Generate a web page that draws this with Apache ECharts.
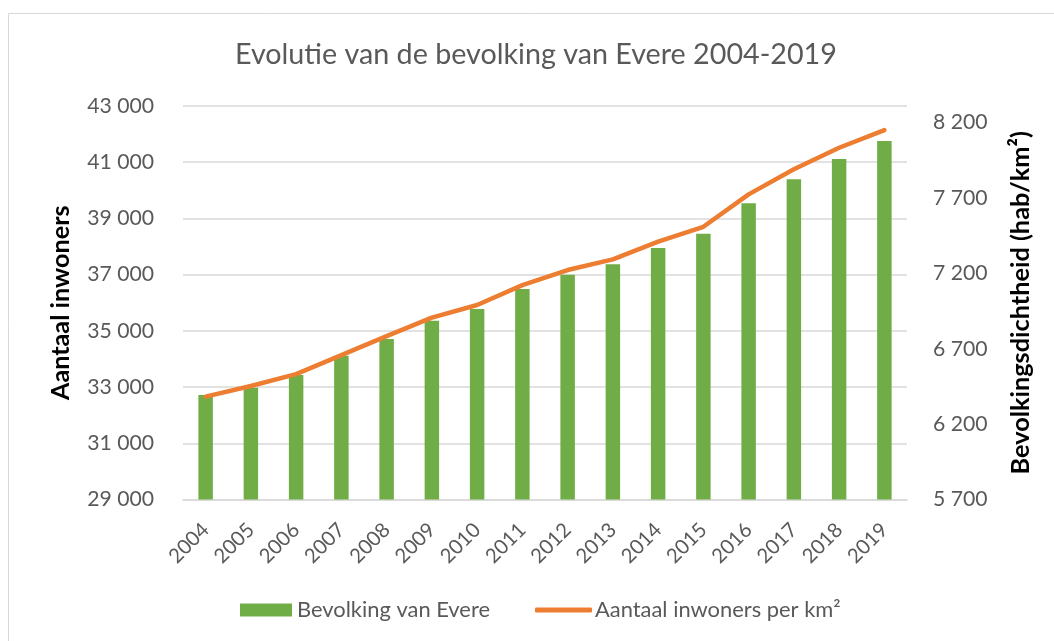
<!DOCTYPE html>
<html>
<head>
<meta charset="utf-8">
<script src="https://cdn.jsdelivr.net/npm/echarts@6/dist/echarts.min.js"></script>
<style>html,body{margin:0;padding:0;background:#fff;}#c{width:1054px;height:641px;}</style>
</head>
<body>
<div id="c"></div>
<script>
const years = ['2004','2005','2006','2007','2008','2009','2010','2011','2012','2013','2014','2015','2016','2017','2018','2019'];
const population = [32718,32977,33429,34116,34710,35361,35777,36488,36997,37367,37947,38456,39537,40391,41113,41753];
const density = [6382,6453,6532,6658,6784,6906,6990,7122,7222,7293,7410,7509,7724,7890,8033,8150];
const leftTicks = {min:29000, max:43000, interval:2000};
const rightTicks = {min:5700, max:8310, interval:500};

const TITLE = 'Evolutie van de bevolking van Evere 2004-2019';
const NAME_L = 'Aantaal inwoners';
const NAME_R = 'Bevolkingsdichtheid (hab/km²)';
const SER_BAR = 'Bevolking van Evere';
const SER_LINE = 'Aantaal inwoners per km²';

const FONT = 'Lato';
const GREY = '#595959';
const fmt = v => String(Math.round(v)).replace(/\B(?=(\d{3})+(?!\d))/g, ' ');

// pick a font size so that a string renders at the width seen in the reference
const ctx = document.createElement('canvas').getContext('2d');
function fit(text, target, weight) {
  ctx.font = (weight || 'normal') + ' 100px ' + FONT;
  return Math.round(100 * target / ctx.measureText(text).width * 10) / 10;
}
const fsTitle = fit(TITLE, 603);
const fsY = fit('43 000', 67);
const fsX = fit('2004', 47);
const fsLeg = fit(SER_BAR, 193);
const fsNameL = fit(NAME_L, 195, 'bold');
const fsNameR = fit(NAME_R, 343, 'bold');

const chart = echarts.init(document.getElementById('c'), null, {renderer:'canvas'});
chart.setOption({
  animation:false,
  backgroundColor:'#fff',
  textStyle:{fontFamily:FONT},
  graphic:[{type:'rect', shape:{x:8.5,y:13.5,width:1100,height:700}, style:{fill:'none', stroke:'#d9d9d9', lineWidth:1}, silent:true}],
  title:{text:TITLE, left:230, top:50 - fsTitle/2,
    textStyle:{fontFamily:FONT, fontWeight:'normal', fontSize:fsTitle, color:GREY}},
  grid:{left:183, right:147, top:106, bottom:141.5, containLabel:false},
  legend:[
    {data:[SER_BAR], left:235, top:605 - fsLeg/2, itemWidth:52, itemHeight:13, icon:'rect', itemGap:0,
      textStyle:{fontFamily:FONT, fontSize:fsLeg, color:GREY}},
    {data:[{name:SER_LINE, icon:'roundRect'}], left:530, top:605 - fsLeg/2, itemWidth:57, itemHeight:5, itemGap:0,
      textStyle:{fontFamily:FONT, fontSize:fsLeg, color:GREY, padding:[0,0,0,-2]}}
  ],
  xAxis:{type:'category', data:years,
    axisLine:{lineStyle:{color:'#d9d9d9', width:1.5}}, axisTick:{show:false},
    axisLabel:{rotate:45, color:GREY, fontSize:fsX, fontFamily:FONT, margin:27, interval:0}},
  yAxis:[
    {type:'value', min:leftTicks.min, max:leftTicks.max, interval:leftTicks.interval,
      name:NAME_L, nameLocation:'middle', nameGap:183 - 61 - fsNameL/2, nameRotate:90,
      nameTextStyle:{fontFamily:FONT, fontWeight:'bold', fontSize:fsNameL, color:'#000'},
      axisLine:{show:false}, axisTick:{show:false},
      splitLine:{lineStyle:{color:'#d9d9d9', width:1.5}},
      axisLabel:{color:GREY, fontSize:fsY, fontFamily:FONT, margin:29, formatter:fmt}},
    {type:'value', min:rightTicks.min, max:rightTicks.max, interval:rightTicks.interval,
      name:NAME_R, nameLocation:'middle', nameGap:1021 - 907 - fsNameR/2, nameRotate:90,
      nameTextStyle:{fontFamily:FONT, fontWeight:'bold', fontSize:fsNameR, color:'#000'},
      axisLine:{show:false}, axisTick:{show:false}, splitLine:{show:false},
      axisLabel:{color:GREY, fontSize:fsY, fontFamily:FONT, margin:26, showMaxLabel:false,
        formatter:v => (Math.abs((v - rightTicks.min) % rightTicks.interval) < 1e-6 ? fmt(v) : '')}}
  ],
  series:[
    {name:SER_BAR, type:'bar', data:population, barWidth:'32%', itemStyle:{color:'#70AD47'}},
    {name:SER_LINE, type:'line', yAxisIndex:1, data:density, symbol:'none', showSymbol:false,
      lineStyle:{color:'#ED7D31', width:4.5, cap:'round', join:'round'}, itemStyle:{color:'#ED7D31'}}
  ]
});
</script>
</body>
</html>
